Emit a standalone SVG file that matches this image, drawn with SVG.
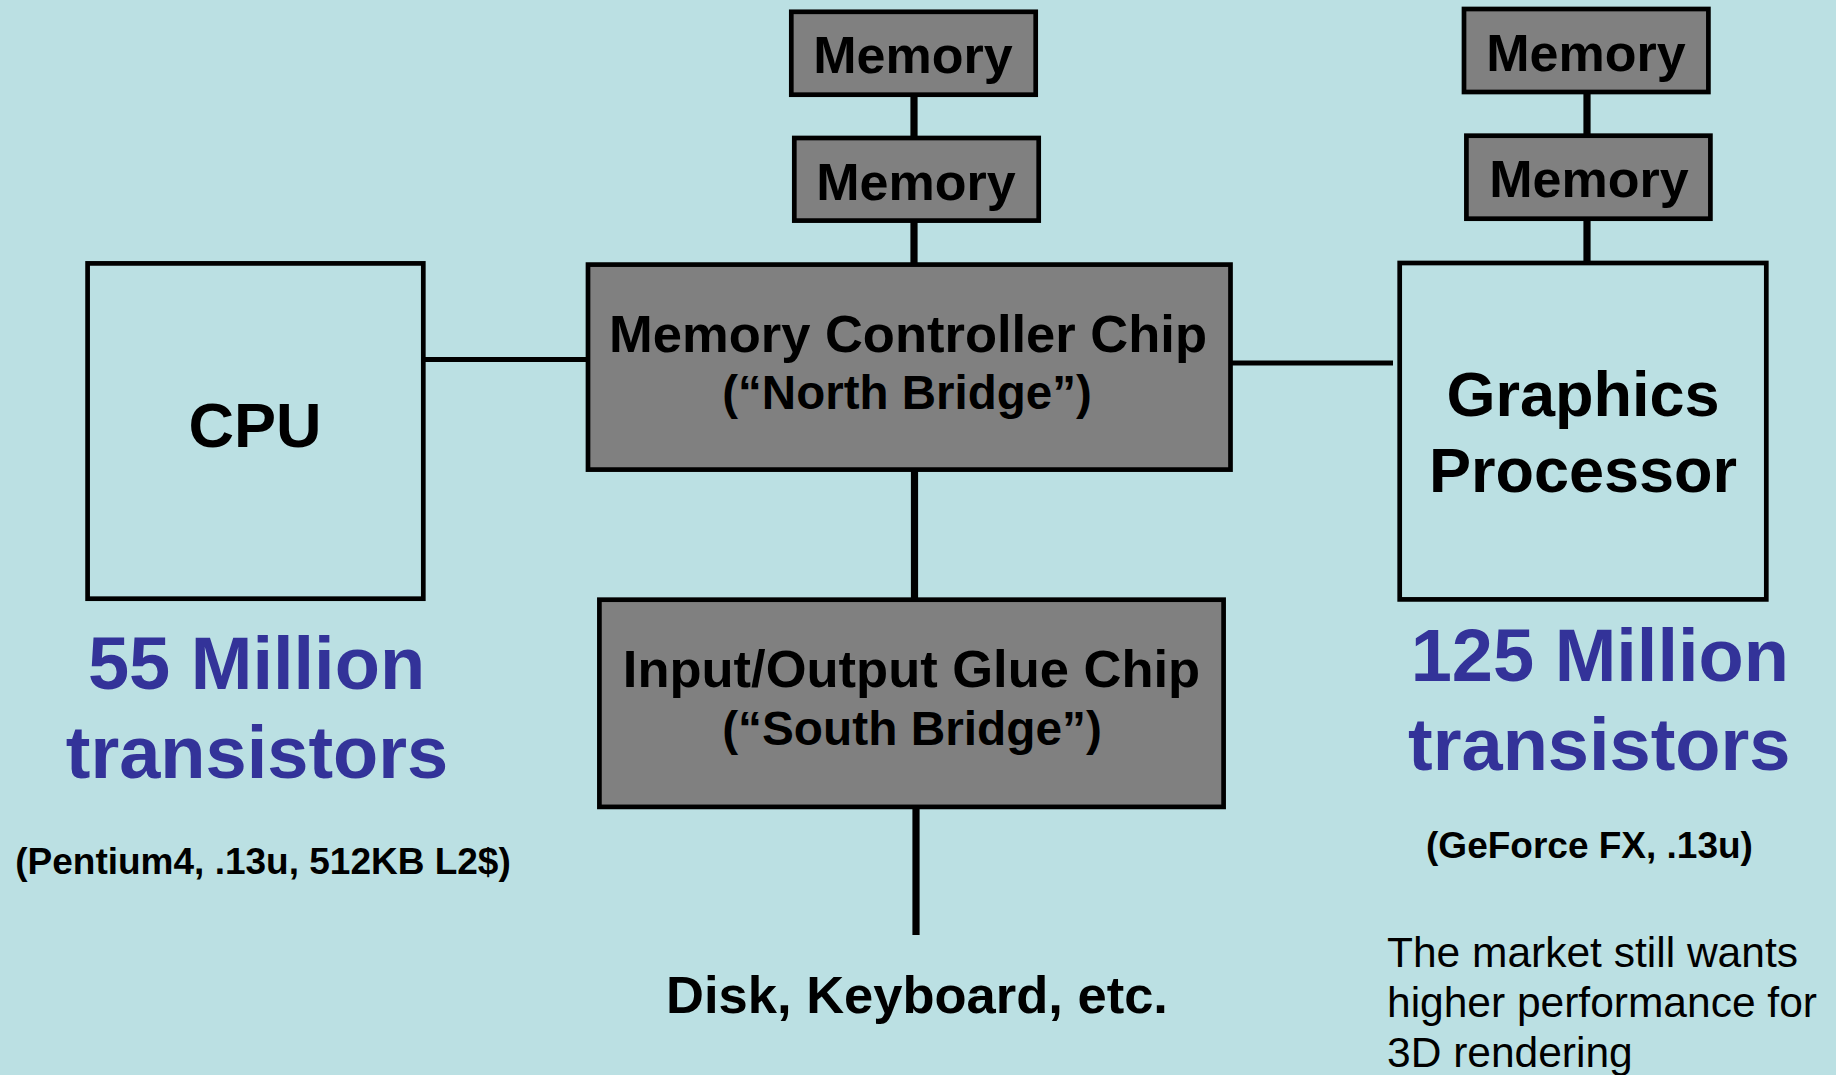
<svg xmlns="http://www.w3.org/2000/svg" width="1836" height="1075" viewBox="0 0 1836 1075">
  <style>
    .box { stroke: #000; stroke-width: 4.7; }
    .chip { fill: #808080; }
    .plain { fill: none; }
    .wire { stroke: #000; fill: none; }
    .v { stroke-width: 7.2; }
    .h { stroke-width: 5; }
    text { font-family: Arial, "Liberation Sans", Helvetica, sans-serif; fill: #000; }
    .c { text-anchor: middle; }
    .l { text-anchor: start; font-size: 42.5px; }
    .b { font-weight: bold; }
    .big { fill: #333399; font-weight: bold; font-size: 74px; }
    .note { font-size: 37px; font-weight: bold; }
  </style>

  <rect width="1836" height="1075" fill="#bbe0e3"/>

  <!-- wires between the chips -->
  <g id="connectors">
    <line class="wire v" x1="914" y1="96" x2="914" y2="139"/>
    <line class="wire v" x1="914" y1="222" x2="914" y2="264"/>
    <line class="wire v" x1="1587" y1="93" x2="1587" y2="136"/>
    <line class="wire v" x1="1587" y1="219" x2="1587" y2="262"/>
    <line class="wire h" x1="424" y1="359.5" x2="587" y2="359.5"/>
    <line class="wire h" x1="1231" y1="363" x2="1393" y2="363"/>
    <line class="wire v" x1="914.5" y1="470" x2="914.5" y2="599"/>
    <line class="wire v" x1="916" y1="808" x2="916" y2="935"/>
  </g>

  <g id="mem-center-top">
    <rect class="box chip" x="791.3" y="11.8" width="244.4" height="82.9"/>
    <text class="c b" x="913" y="73" font-size="52">Memory</text>
  </g>
  <g id="mem-center-bottom">
    <rect class="box chip" x="794.3" y="138" width="244.4" height="82.6"/>
    <text class="c b" x="916" y="200" font-size="52">Memory</text>
  </g>
  <g id="mem-right-top">
    <rect class="box chip" x="1464" y="9" width="244.4" height="83"/>
    <text class="c b" x="1586" y="71" font-size="52">Memory</text>
  </g>
  <g id="mem-right-bottom">
    <rect class="box chip" x="1466.4" y="135.7" width="244" height="83"/>
    <text class="c b" x="1589" y="197" font-size="52">Memory</text>
  </g>

  <g id="cpu">
    <rect class="box plain" x="87.6" y="263.4" width="335.7" height="335.3"/>
    <text class="c b" x="255" y="447" font-size="63">CPU</text>
  </g>

  <g id="north-bridge">
    <rect class="box chip" x="588" y="264.6" width="642.5" height="205"/>
    <text class="c b" x="908" y="352" font-size="52.5">Memory Controller Chip</text>
    <text class="c b" x="907" y="409" font-size="47.5">(“North Bridge”)</text>
  </g>

  <g id="graphics">
    <rect class="box plain" x="1399.7" y="263" width="366.6" height="336.4"/>
    <text class="c b" x="1583" y="415.7" font-size="63">Graphics</text>
    <text class="c b" x="1583" y="491.7" font-size="63">Processor</text>
  </g>

  <g id="south-bridge">
    <rect class="box chip" x="599.4" y="599.7" width="624.2" height="207.2"/>
    <text class="c b" x="911.5" y="687" font-size="52.5">Input/Output Glue Chip</text>
    <text class="c b" x="912" y="745" font-size="47.8">(“South Bridge”)</text>
  </g>

  <g id="io-devices">
    <text class="c b" x="917" y="1012.7" font-size="52.5">Disk, Keyboard, etc.</text>
  </g>

  <g id="cpu-notes">
    <text class="c big" x="256.5" y="689.3">55 Million</text>
    <text class="c big" x="257" y="778.3">transistors</text>
    <text class="c note" x="263" y="874">(Pentium4, .13u, 512KB L2$)</text>
  </g>

  <g id="gpu-notes">
    <text class="c big" x="1599.8" y="681">125 Million</text>
    <text class="c big" x="1599.3" y="770">transistors</text>
    <text class="c note" x="1589.5" y="858.3">(GeForce FX, .13u)</text>
    <text class="l" x="1387" y="966.7">The market still wants</text>
    <text class="l" x="1387" y="1016.7">higher performance for</text>
    <text class="l" x="1387" y="1066.7">3D rendering</text>
  </g>
</svg>
